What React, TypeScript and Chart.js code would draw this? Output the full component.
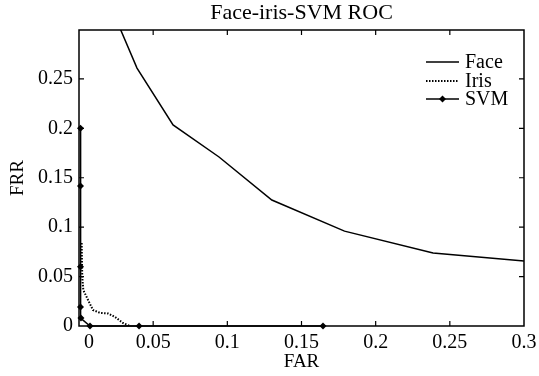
import { useEffect, useRef } from "react";
import { Chart, registerables } from "chart.js";

Chart.register(...registerables);

const faceFAR = [0.028, 0.0391, 0.0634, 0.0944, 0.13, 0.179, 0.2387, 0.3];
const faceFRR = [0.3, 0.261, 0.2034, 0.171, 0.1275, 0.096, 0.0739, 0.0658];
const irisFAR = [0.0018, 0.002, 0.0022, 0.0029, 0.0061, 0.0094, 0.0142, 0.0196, 0.0243, 0.0297, 0.0344];
const irisFRR = [0.084, 0.065, 0.0496, 0.0364, 0.0263, 0.0162, 0.0132, 0.0127, 0.0091, 0.003, 0];
const svmFAR = [0.001, 0.001, 0.001, 0.001, 0.0013, 0.0074, 0.0405, 0.1645];
const svmFRR = [0.2, 0.1417, 0.06, 0.0192, 0.008, 0, 0, 0];

const xTickValues = [0.0067, 0.05, 0.1, 0.15, 0.2, 0.25, 0.3];
const xTickLabels = ["0", "0.05", "0.1", "0.15", "0.2", "0.25", "0.3"];
const yTickValues = [0, 0.05, 0.1, 0.15, 0.2, 0.25];
const yTickLabels = ["0", "0.05", "0.1", "0.15", "0.2", "0.25"];
const xTickMarks = [0.05, 0.1, 0.15, 0.2, 0.25];
const yTickMarks = [0.05, 0.1, 0.15, 0.2, 0.25];
const seriesNames = ["Face", "Iris", "SVM"];
const chartTitle = "Face-iris-SVM ROC";

const FONT = "'Liberation Serif', 'Times New Roman', serif";

const zip = (xs: number[], ys: number[]) => xs.map((x, i) => ({ x, y: ys[i] }));

const framePlugin = {
  id: "frameLegend",
  afterDraw(chart: any) {
    const { ctx, chartArea } = chart;
    const { left, right, top, bottom } = chartArea;
    const xs = chart.scales.x;
    const ys = chart.scales.y;
    ctx.save();
    ctx.strokeStyle = "#000";
    ctx.fillStyle = "#000";
    ctx.setLineDash([]);
    // frame
    ctx.lineWidth = 1.5;
    ctx.beginPath();
    ctx.moveTo(left, top);
    ctx.lineTo(right, top);
    ctx.lineTo(right, bottom);
    ctx.lineTo(left, bottom);
    ctx.closePath();
    ctx.stroke();
    // inward ticks
    ctx.lineWidth = 1.2;
    ctx.beginPath();
    xTickMarks.forEach((v) => {
      const p = xs.getPixelForValue(v);
      ctx.moveTo(p, bottom);
      ctx.lineTo(p, bottom - 5);
      ctx.moveTo(p, top);
      ctx.lineTo(p, top + 5);
    });
    yTickMarks.forEach((v) => {
      const p = ys.getPixelForValue(v);
      ctx.moveTo(left, p);
      ctx.lineTo(left + 5, p);
      ctx.moveTo(right, p);
      ctx.lineTo(right - 5, p);
    });
    ctx.stroke();

    // title
    ctx.font = `22px ${FONT}`;
    ctx.textAlign = "center";
    ctx.textBaseline = "middle";
    ctx.fillText(chartTitle, (left + right) / 2, 13);

    // legend
    const lx0 = 426, lx1 = 459, tx = 465;
    const rows = [62, 81, 99];
    ctx.font = `20px ${FONT}`;
    ctx.textBaseline = "middle";
    ctx.textAlign = "left";
    rows.forEach((y, i) => {
      ctx.beginPath();
      if (i === 1) {
        ctx.lineWidth = 2;
        ctx.setLineDash([1.5, 1.5]);
      } else {
        ctx.lineWidth = 1.5;
        ctx.setLineDash([]);
      }
      ctx.moveTo(lx0, y);
      ctx.lineTo(lx1, y);
      ctx.stroke();
      ctx.setLineDash([]);
      if (i === 2) {
        const cx = (lx0 + lx1) / 2;
        ctx.beginPath();
        ctx.moveTo(cx, y - 3.5);
        ctx.lineTo(cx + 3.5, y);
        ctx.lineTo(cx, y + 3.5);
        ctx.lineTo(cx - 3.5, y);
        ctx.closePath();
        ctx.fill();
      }
      ctx.fillText(seriesNames[i], tx, y + 1);
    });
    ctx.restore();
  },
};

export default function App() {
  const ref = useRef<HTMLCanvasElement | null>(null);
  useEffect(() => {
    document.body.style.margin = "0";
    Chart.defaults.color = "#000";
    Chart.defaults.font.family = FONT;
    const chart = new Chart(ref.current as HTMLCanvasElement, {
      type: "scatter",
      data: {
        datasets: [
          {
            label: seriesNames[0],
            data: zip(faceFAR, faceFRR),
            showLine: true,
            borderColor: "#000",
            borderWidth: 1.5,
            pointRadius: 0,
            tension: 0,
          },
          {
            label: seriesNames[1],
            data: zip(irisFAR, irisFRR),
            showLine: true,
            borderColor: "#000",
            borderWidth: 2,
            borderDash: [1.5, 1.5],
            pointRadius: 0,
            tension: 0,
          },
          {
            label: seriesNames[2],
            data: zip(svmFAR, svmFRR),
            showLine: true,
            borderColor: "#000",
            backgroundColor: "#000",
            borderWidth: 1.5,
            pointStyle: "rectRot",
            pointRadius: 3.5,
            pointBorderWidth: 0,
            tension: 0,
            clip: false as any,
          },
        ],
      },
      options: {
        animation: false,
        responsive: false,
        devicePixelRatio: 1,
        layout: { padding: { left: 0, right: 15, top: 30, bottom: 0 } },
        plugins: {
          legend: { display: false },
          tooltip: { enabled: false },
          title: { display: false },
        },
        scales: {
          x: {
            type: "linear",
            min: 0,
            max: 0.3,
            grid: { display: false, drawTicks: false, tickLength: 0 },
            border: { display: false },
            afterBuildTicks: (s: any) => {
              s.ticks = xTickValues.map((v) => ({ value: v }));
            },
            afterFit: (s: any) => {
              s.height = 50;
              s.paddingLeft = 0;
              s.paddingRight = 0;
            },
            ticks: {
              padding: 5,
              maxRotation: 0,
              autoSkip: false,
              font: { size: 20, family: FONT },
              color: "#000",
              callback: (v: any) => {
                const i = xTickValues.indexOf(Number(v));
                return i >= 0 ? xTickLabels[i] : "";
              },
            },
            title: {
              display: true,
              text: "FAR",
              font: { size: 19, family: FONT },
              color: "#000",
              padding: { top: 0, bottom: 2.5 },
            },
          },
          y: {
            type: "linear",
            min: 0,
            max: 0.2995,
            grid: { display: false, drawTicks: false, tickLength: 0 },
            border: { display: false },
            afterBuildTicks: (s: any) => {
              s.ticks = yTickValues.map((v) => ({ value: v }));
            },
            afterFit: (s: any) => {
              s.width = 79;
              s.paddingTop = 0;
              s.paddingBottom = 0;
            },
            ticks: {
              padding: 6,
              autoSkip: false,
              font: { size: 20, family: FONT },
              color: "#000",
              callback: (v: any) => {
                const i = yTickValues.indexOf(Number(v));
                return i >= 0 ? yTickLabels[i] : "";
              },
            },
            title: {
              display: true,
              text: "FRR",
              font: { size: 19, family: FONT },
              color: "#000",
              padding: { top: 7, bottom: 0 },
            },
          },
        },
      },
      plugins: [framePlugin],
    });
    return () => chart.destroy();
  }, []);
  return (
    <div style={{ width: 539, height: 376 }}>
      <canvas ref={ref} width={539} height={376} style={{ display: "block" }} />
    </div>
  );
}
